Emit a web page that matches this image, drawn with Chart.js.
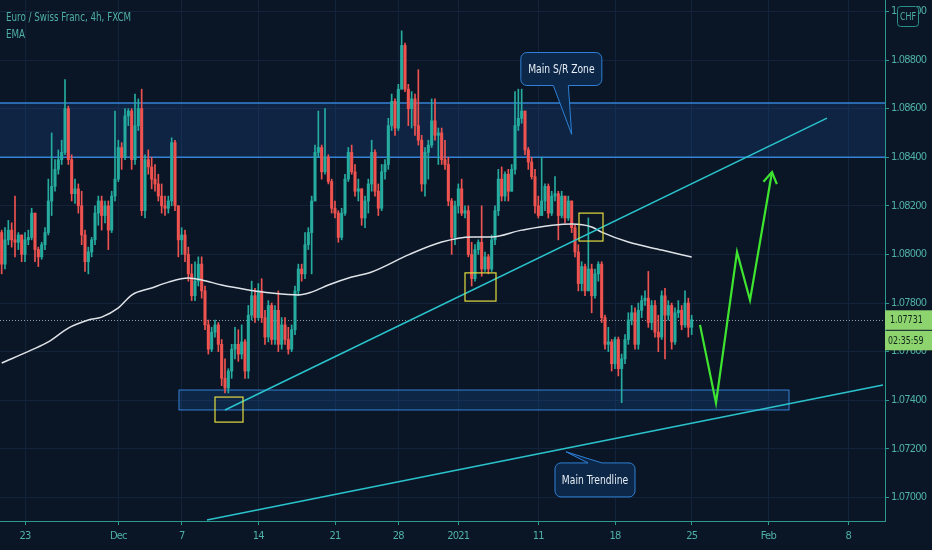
<!DOCTYPE html>
<html>
<head>
<meta charset="utf-8">
<script src="https://cdn.jsdelivr.net/npm/chart.js@4.4.1/dist/chart.umd.min.js"></script>
<style>
  html, body { margin: 0; padding: 0; background: #0a1626; overflow: hidden; }
  canvas { display: block; }
</style>
</head>
<body>
<canvas id="grafica" width="932" height="550"></canvas>
<script>
// EUR/CHF 4h candles (open = previous close)
const firstOpen = 1.0809;
const closes = [
  1.0796, 1.0806, 1.0810, 1.0806, 1.0805, 1.0808, 1.0800, 1.0806, 1.0807, 1.0817,
  1.0802, 1.0799, 1.0804, 1.0809, 1.0822, 1.0828, 1.0835, 1.0839, 1.0842, 1.0860,
  1.0839, 1.0825, 1.0827, 1.0820, 1.0808, 1.0797, 1.0801, 1.0806, 1.0817, 1.0822,
  1.0816, 1.0820, 1.0810, 1.0824, 1.0831, 1.0844, 1.0840, 1.0857, 1.0859, 1.0839,
  1.0853, 1.0860, 1.0818, 1.0839, 1.0836, 1.0831, 1.0829, 1.0824, 1.0820, 1.0819,
  1.0822, 1.0846, 1.0820, 1.0806, 1.0808, 1.0800, 1.0792, 1.0783, 1.0789, 1.0796,
  1.0785, 1.0771, 1.0761, 1.0768, 1.0771, 1.0763, 1.0749, 1.0745, 1.0752, 1.0761,
  1.0763, 1.0759, 1.0764, 1.0752, 1.0775, 1.0783, 1.0774, 1.0785, 1.0774, 1.0766,
  1.0779, 1.0765, 1.0777, 1.0763, 1.0771, 1.0765, 1.0761, 1.0769, 1.0785, 1.0794,
  1.0792, 1.0804, 1.0809, 1.0822, 1.0842, 1.0844, 1.0834, 1.0840, 1.0830, 1.0819,
  1.0817, 1.0807, 1.0817, 1.0831, 1.0842, 1.0834, 1.0826, 1.0827, 1.0815, 1.0822,
  1.0829, 1.0842, 1.0826, 1.0819, 1.0834, 1.0837, 1.0853, 1.0863, 1.0852, 1.0868,
  1.0886, 1.0868, 1.0860, 1.0864, 1.0853, 1.0847, 1.0829, 1.0842, 1.0845, 1.0855,
  1.0849, 1.0850, 1.0839, 1.0837, 1.0822, 1.0807, 1.0820, 1.0827, 1.0817, 1.0818,
  1.0800, 1.0790, 1.0802, 1.0805, 1.0794, 1.0799, 1.0794, 1.0806, 1.0818, 1.0831,
  1.0824, 1.0833, 1.0826, 1.0835, 1.0853, 1.0856, 1.0859, 1.0843, 1.0838, 1.0832,
  1.0820, 1.0816, 1.0822, 1.0828, 1.0817, 1.0824, 1.0825, 1.0816, 1.0824, 1.0815,
  1.0822, 1.0811, 1.0801, 1.0788, 1.0795, 1.0785, 1.0794, 1.0783, 1.0792, 1.0796,
  1.0774, 1.0763, 1.0764, 1.0755, 1.0765, 1.0753, 1.0757, 1.0765, 1.0773, 1.0776,
  1.0763, 1.0777, 1.0781, 1.0782, 1.0772, 1.0779, 1.0768, 1.0766, 1.0783, 1.0775,
  1.0779, 1.0764, 1.0776, 1.0777, 1.0771, 1.0780, 1.0770, 1.07731
];
const highs = [
  1.0810, 1.0811, 1.0814, 1.0813, 1.0824, 1.0809, 1.0808, 1.0809, 1.0810, 1.0819,
  1.0817, 1.0803, 1.0805, 1.0811, 1.0831, 1.0850, 1.0839, 1.0843, 1.0847, 1.0872,
  1.0861, 1.0841, 1.0831, 1.0829, 1.0826, 1.0810, 1.0803, 1.0807, 1.0820, 1.0824,
  1.0824, 1.0822, 1.0822, 1.0826, 1.0859, 1.0847, 1.0846, 1.0860, 1.0860, 1.0860,
  1.0866, 1.0864, 1.0868, 1.0841, 1.0843, 1.0840, 1.0837, 1.0833, 1.0829, 1.0824,
  1.0824, 1.0848, 1.0847, 1.0820, 1.0811, 1.0810, 1.0803, 1.0796, 1.0797, 1.0799,
  1.0799, 1.0787, 1.0773, 1.0770, 1.0773, 1.0772, 1.0765, 1.0757, 1.0753, 1.0763,
  1.0770, 1.0769, 1.0771, 1.0765, 1.0779, 1.0789, 1.0786, 1.0788, 1.0790, 1.0777,
  1.0781, 1.0780, 1.0779, 1.0785, 1.0774, 1.0774, 1.0770, 1.0771, 1.0787, 1.0796,
  1.0796, 1.0809, 1.0811, 1.0824, 1.0845, 1.0859, 1.0845, 1.0860, 1.0841, 1.0831,
  1.0822, 1.0818, 1.0819, 1.0833, 1.0844, 1.0845, 1.0837, 1.0831, 1.0827, 1.0824,
  1.0831, 1.0847, 1.0843, 1.0829, 1.0837, 1.0839, 1.0856, 1.0866, 1.0864, 1.0870,
  1.0892, 1.0887, 1.0870, 1.0867, 1.0866, 1.0876, 1.0849, 1.0844, 1.0847, 1.0864,
  1.0864, 1.0852, 1.0852, 1.0847, 1.0840, 1.0823, 1.0822, 1.0829, 1.0831, 1.0820,
  1.0820, 1.0805, 1.0804, 1.0806, 1.0820, 1.0801, 1.0800, 1.0808, 1.0820, 1.0835,
  1.0836, 1.0834, 1.0835, 1.0837, 1.0867, 1.0868, 1.0868, 1.0859, 1.0844, 1.0840,
  1.0835, 1.0824, 1.0840, 1.0829, 1.0829, 1.0826, 1.0832, 1.0826, 1.0826, 1.0824,
  1.0824, 1.0820, 1.0812, 1.0804, 1.0797, 1.0796, 1.0815, 1.0796, 1.0794, 1.0797,
  1.0797, 1.0775, 1.0770, 1.0765, 1.0766, 1.0766, 1.0759, 1.0767, 1.0776, 1.0779,
  1.0778, 1.0780, 1.0783, 1.0785, 1.0793, 1.0781, 1.0781, 1.0775, 1.0785, 1.0786,
  1.0781, 1.0780, 1.0778, 1.0781, 1.0779, 1.0785, 1.0782, 1.0775
];
const lows = [
  1.0792, 1.0794, 1.0804, 1.0803, 1.0799, 1.0802, 1.0797, 1.0797, 1.0804, 1.0806,
  1.0797, 1.0795, 1.0798, 1.0802, 1.0808, 1.0816, 1.0826, 1.0833, 1.0837, 1.0841,
  1.0837, 1.0822, 1.0821, 1.0817, 1.0804, 1.0793, 1.0792, 1.0799, 1.0804, 1.0812,
  1.0810, 1.0813, 1.0802, 1.0809, 1.0822, 1.0830, 1.0835, 1.0839, 1.0853, 1.0835,
  1.0837, 1.0851, 1.0816, 1.0815, 1.0833, 1.0827, 1.0826, 1.0822, 1.0817, 1.0816,
  1.0817, 1.0820, 1.0818, 1.0799, 1.0800, 1.0797, 1.0789, 1.0781, 1.0781, 1.0787,
  1.0782, 1.0769, 1.0759, 1.0760, 1.0766, 1.0760, 1.0746, 1.0743, 1.0743, 1.0749,
  1.0757, 1.0756, 1.0757, 1.0749, 1.0749, 1.0773, 1.0772, 1.0773, 1.0772, 1.0763,
  1.0764, 1.0763, 1.0763, 1.0760, 1.0761, 1.0763, 1.0759, 1.0760, 1.0767, 1.0783,
  1.0789, 1.0790, 1.0802, 1.0792, 1.0822, 1.0840, 1.0831, 1.0833, 1.0829, 1.0817,
  1.0815, 1.0805, 1.0806, 1.0816, 1.0830, 1.0833, 1.0824, 1.0822, 1.0812, 1.0811,
  1.0817, 1.0826, 1.0824, 1.0816, 1.0818, 1.0831, 1.0835, 1.0851, 1.0849, 1.0851,
  1.0868, 1.0867, 1.0853, 1.0852, 1.0849, 1.0845, 1.0826, 1.0824, 1.0831, 1.0844,
  1.0847, 1.0837, 1.0837, 1.0835, 1.0820, 1.0800, 1.0804, 1.0817, 1.0816, 1.0815,
  1.0799, 1.0787, 1.0789, 1.0800, 1.0791, 1.0793, 1.0792, 1.0793, 1.0804, 1.0816,
  1.0822, 1.0822, 1.0822, 1.0826, 1.0833, 1.0851, 1.0854, 1.0841, 1.0835, 1.0831,
  1.0817, 1.0815, 1.0817, 1.0818, 1.0815, 1.0816, 1.0822, 1.0806, 1.0815, 1.0813,
  1.0814, 1.0809, 1.0799, 1.0785, 1.0785, 1.0783, 1.0785, 1.0776, 1.0782, 1.0789,
  1.0772, 1.0761, 1.0760, 1.0752, 1.0753, 1.0750, 1.0739, 1.0755, 1.0763, 1.0771,
  1.0761, 1.0761, 1.0774, 1.0779, 1.0770, 1.0769, 1.0766, 1.0760, 1.0765, 1.0757,
  1.0773, 1.0761, 1.0763, 1.0774, 1.0769, 1.0770, 1.0766, 1.0767
];

// EMA read at some candles
const emaBars = [0, 9, 14, 20, 26, 30, 35, 39, 45, 50, 56, 60, 66, 74, 81, 89, 93, 98, 105, 111, 122, 132, 141, 147, 156, 171, 177, 180, 188, 198, 207];
const emaValues = [1.07553, 1.07607, 1.07640, 1.07697, 1.07730, 1.07742, 1.07780, 1.07833, 1.07862, 1.07886, 1.07903, 1.07895, 1.07874, 1.07854, 1.07841, 1.07833, 1.07845, 1.07874, 1.07907, 1.07928, 1.07998, 1.08051, 1.08072, 1.08072, 1.08100, 1.08125, 1.08113, 1.08092, 1.08051, 1.08018, 1.07989];

// date labels and the candle they fall on
const tickBars = [7, 35, 54, 77, 100, 119, 137, 161, 184, 207, 230, 254];
const tickLabels = ["23", "Dec", "7", "14", "21", "28", "2021", "11", "18", "25", "Feb", "8"];
const priceTicks = [1.070, 1.072, 1.074, 1.076, 1.078, 1.080, 1.082, 1.084, 1.086, 1.088, 1.090];

const lastPrice = 1.07731;
const countdown = "02:35:59";

// drawings, in candle / price units
const srZone = [1.0840, 1.08623];
const supportZone = [53.2, 236.2, 1.0736, 1.07442];
const markBoxes = [[64, 72.4, 1.0731, 1.07413], [139, 148.3, 1.07808, 1.07924], [173.2, 180.4, 1.08055, 1.0817]];
const upperTrendBars = [67, 247.6];
const upperTrendPrices = [1.0736, 1.08561];
const lowerTrendBars = [61.6, 264.4];
const lowerTrendPrices = [1.06907, 1.07463];
const forecastBars = [209.5, 214.3, 220.6, 224.5, 231.1];
const forecastPrices = [1.0771, 1.07389, 1.0801, 1.07812, 1.08339];

const TEAL = "#26ab9f";
const RED = "#ef5350";
const TEXT = "#4fb0a6";
const AXIS = "#2a9a90";
const GRID = "#13233a";
const BG = "#0a1626";
const FONT = "'DejaVu Sans Condensed', 'Liberation Sans', sans-serif";

Chart.defaults.font.family = FONT;

const opens = closes.map((c, i) => i === 0 ? firstOpen : closes[i - 1]);
const colors = closes.map((c, i) => c >= opens[i] ? TEAL : RED);
const wicks = closes.map((c, i) => ({ x: i, y: [Math.min(lows[i], opens[i], c), Math.max(highs[i], opens[i], c)] }));
const bodies = closes.map((c, i) => ({ x: i, y: [opens[i], c] }));
const pairs = (xs, ys) => xs.map((v, i) => ({ x: v, y: ys[i] }));

// the screenshot's text is narrow, squeeze ours a little
function narrowText(ctx, text, x, y, sx) {
  ctx.save();
  ctx.translate(x, y);
  ctx.scale(sx, 1);
  ctx.fillText(text, 0, 0);
  ctx.restore();
}

function callout(ctx, cx, cy, w, h, tx, ty, bl, br, text) {
  const r = 6, l = cx - w / 2, t = cy - h / 2, rt = l + w, b = t + h;
  ctx.beginPath();
  ctx.moveTo(l + r, t);
  if (ty < t) { ctx.lineTo(cx + bl, t); ctx.lineTo(tx, ty); ctx.lineTo(cx + br, t); }
  ctx.lineTo(rt - r, t);
  ctx.arcTo(rt, t, rt, t + r, r);
  ctx.lineTo(rt, b - r);
  ctx.arcTo(rt, b, rt - r, b, r);
  if (ty > b) { ctx.lineTo(cx + br, b); ctx.lineTo(tx, ty); ctx.lineTo(cx + bl, b); }
  ctx.lineTo(l + r, b);
  ctx.arcTo(l, b, l, b - r, r);
  ctx.lineTo(l, t + r);
  ctx.arcTo(l, t, l + r, t, r);
  ctx.closePath();
  ctx.fillStyle = "#0c2747";
  ctx.fill();
  ctx.strokeStyle = "#2f80d6";
  ctx.lineWidth = 1;
  ctx.stroke();
  ctx.fillStyle = "#e6edf5";
  ctx.font = "12px " + FONT;
  ctx.textAlign = "center";
  ctx.textBaseline = "middle";
  narrowText(ctx, text, cx, cy + 1, 0.85);
}

const drawings = {
  id: "drawings",
  beforeDraw(chart) {
    // tighter tick labels, like the screenshot
    chart.ctx.letterSpacing = "-0.8px";
  },
  beforeDatasetsDraw(chart) {
    const { ctx, chartArea: a, scales: { x, y } } = chart;
    ctx.save();
    // main S/R zone
    const zt = y.getPixelForValue(srZone[1]), zb = y.getPixelForValue(srZone[0]);
    ctx.fillStyle = "rgba(32, 96, 180, 0.20)";
    ctx.fillRect(a.left, zt, a.right - a.left, zb - zt);
    ctx.strokeStyle = "#3583d6";
    ctx.lineWidth = 1.6;
    ctx.beginPath();
    ctx.moveTo(a.left, zt); ctx.lineTo(a.right, zt);
    ctx.moveTo(a.left, zb); ctx.lineTo(a.right, zb);
    ctx.stroke();
    // support zone
    const sl = x.getPixelForValue(supportZone[0]), sr = x.getPixelForValue(supportZone[1]);
    const st = y.getPixelForValue(supportZone[3]), sb = y.getPixelForValue(supportZone[2]);
    ctx.fillStyle = "rgba(32, 96, 180, 0.22)";
    ctx.fillRect(sl, st, sr - sl, sb - st);
    ctx.lineWidth = 1;
    ctx.strokeRect(sl, st, sr - sl, sb - st);
    // last price line
    const py = Math.round(y.getPixelForValue(lastPrice)) + 0.5;
    ctx.strokeStyle = "rgba(190, 200, 210, 0.75)";
    ctx.setLineDash([1, 2]);
    ctx.beginPath();
    ctx.moveTo(a.left, py); ctx.lineTo(a.right, py);
    ctx.stroke();
    ctx.restore();
  },
  afterDatasetsDraw(chart) {
    const { ctx, scales: { x, y } } = chart;
    ctx.save();
    ctx.letterSpacing = "0px";
    // yellow marks
    ctx.strokeStyle = "#e3dc3f";
    ctx.lineWidth = 1.2;
    markBoxes.forEach(([b0, b1, p0, p1]) => {
      const l = x.getPixelForValue(b0), r = x.getPixelForValue(b1);
      const t = y.getPixelForValue(p1), b = y.getPixelForValue(p0);
      ctx.strokeRect(l, t, r - l, b - t);
    });
    // arrow head of the forecast
    const n = forecastBars.length;
    const x1 = x.getPixelForValue(forecastBars[n - 1]), y1 = y.getPixelForValue(forecastPrices[n - 1]);
    const x0 = x.getPixelForValue(forecastBars[n - 2]), y0 = y.getPixelForValue(forecastPrices[n - 2]);
    const ang = Math.atan2(y1 - y0, x1 - x0);
    ctx.strokeStyle = "#3ee52f";
    ctx.lineWidth = 2.2;
    ctx.beginPath();
    ctx.moveTo(x1 + 13 * Math.cos(ang + Math.PI - 0.55), y1 + 13 * Math.sin(ang + Math.PI - 0.55));
    ctx.lineTo(x1, y1);
    ctx.lineTo(x1 + 13 * Math.cos(ang + Math.PI + 0.55), y1 + 13 * Math.sin(ang + Math.PI + 0.55));
    ctx.stroke();
    // callouts
    callout(ctx, x.getPixelForValue(167.9), y.getPixelForValue(1.08763), 81, 33,
      x.getPixelForValue(171.0), y.getPixelForValue(1.08494), -8, 7, "Main S/R Zone");
    callout(ctx, x.getPixelForValue(178.0), y.getPixelForValue(1.07072), 80, 34,
      x.getPixelForValue(169.3), y.getPixelForValue(1.07188), -7, 7, "Main Trendline");
    ctx.restore();
  },
  afterDraw(chart) {
    const { ctx, chartArea: a, scales: { y } } = chart;
    ctx.save();
    ctx.letterSpacing = "0px";
    ctx.fillStyle = TEXT;
    ctx.font = "12px " + FONT;
    ctx.textAlign = "left";
    ctx.textBaseline = "alphabetic";
    narrowText(ctx, "Euro / Swiss Franc, 4h, FXCM", 6, 21, 0.81);
    narrowText(ctx, "EMA", 6, 38, 0.81);
    // price + countdown labels
    const py = y.getPixelForValue(lastPrice);
    ctx.fillStyle = "#8ed46e";
    ctx.fillRect(a.right, py - 9.5, 932 - a.right, 19.5);
    ctx.fillRect(a.right, py + 11, 932 - a.right, 19.5);
    ctx.fillStyle = "#10241a";
    ctx.font = "11px " + FONT;
    ctx.textBaseline = "middle";
    narrowText(ctx, lastPrice.toFixed(5), a.right + 5, py + 0.5, 0.8);
    narrowText(ctx, countdown, a.right + 3, py + 21, 0.8);
    // currency badge
    ctx.fillStyle = BG;
    ctx.strokeStyle = "#2a8f88";
    ctx.lineWidth = 1;
    ctx.beginPath();
    ctx.roundRect(897.5, 6.5, 21, 20, 3);
    ctx.fill();
    ctx.stroke();
    ctx.fillStyle = TEXT;
    ctx.textAlign = "center";
    narrowText(ctx, "CHF", 908, 17, 0.8);
    ctx.restore();
  }
};

new Chart(document.getElementById("grafica"), {
  type: "bar",
  data: {
    datasets: [
      { type: "line", data: pairs(forecastBars, forecastPrices), borderColor: "#3ee52f", borderWidth: 2.2, pointRadius: 0, order: 0 },
      { type: "line", data: pairs(upperTrendBars, upperTrendPrices), borderColor: "#2ac3cc", borderWidth: 1.6, pointRadius: 0, order: 1 },
      { type: "line", data: pairs(lowerTrendBars, lowerTrendPrices), borderColor: "#2ac3cc", borderWidth: 1.6, pointRadius: 0, order: 1 },
      { type: "line", data: pairs(emaBars, emaValues), borderColor: "#dfe3e8", borderWidth: 1.5, pointRadius: 0, cubicInterpolationMode: "monotone", order: 2 },
      { data: bodies, backgroundColor: colors, barThickness: 2.4, minBarLength: 1, grouped: false, order: 3 },
      { data: wicks, backgroundColor: colors, barThickness: 1, grouped: false, order: 4 }
    ]
  },
  options: {
    responsive: false,
    animation: false,
    devicePixelRatio: 1,
    layout: { padding: 0 },
    plugins: { legend: { display: false }, tooltip: { enabled: false } },
    scales: {
      x: {
        type: "linear", min: -0.5, max: 265, offset: false,
        grid: { color: GRID, tickColor: AXIS, tickLength: 4, offset: false },
        border: { display: true, color: AXIS, width: 1 },
        ticks: { color: TEXT, font: { size: 11 }, padding: 5, maxRotation: 0, autoSkip: false, callback: (v, i) => tickLabels[i] },
        afterBuildTicks: s => { s.ticks = tickBars.map(v => ({ value: v })); },
        afterFit: s => { s.height = 29; s.paddingLeft = 0; s.paddingRight = 0; }
      },
      y: {
        position: "right", min: 1.06903, max: 1.09047,
        grid: { color: GRID, tickColor: AXIS, tickLength: 4 },
        border: { display: true, color: AXIS, width: 1 },
        ticks: { color: TEXT, font: { size: 11 }, padding: 2, callback: v => v.toFixed(5) },
        afterBuildTicks: s => { s.ticks = priceTicks.map(v => ({ value: v })); },
        afterFit: s => { s.width = 47; s.paddingTop = 0; s.paddingBottom = 0; }
      }
    }
  },
  plugins: [drawings]
});
</script>
</body>
</html>
